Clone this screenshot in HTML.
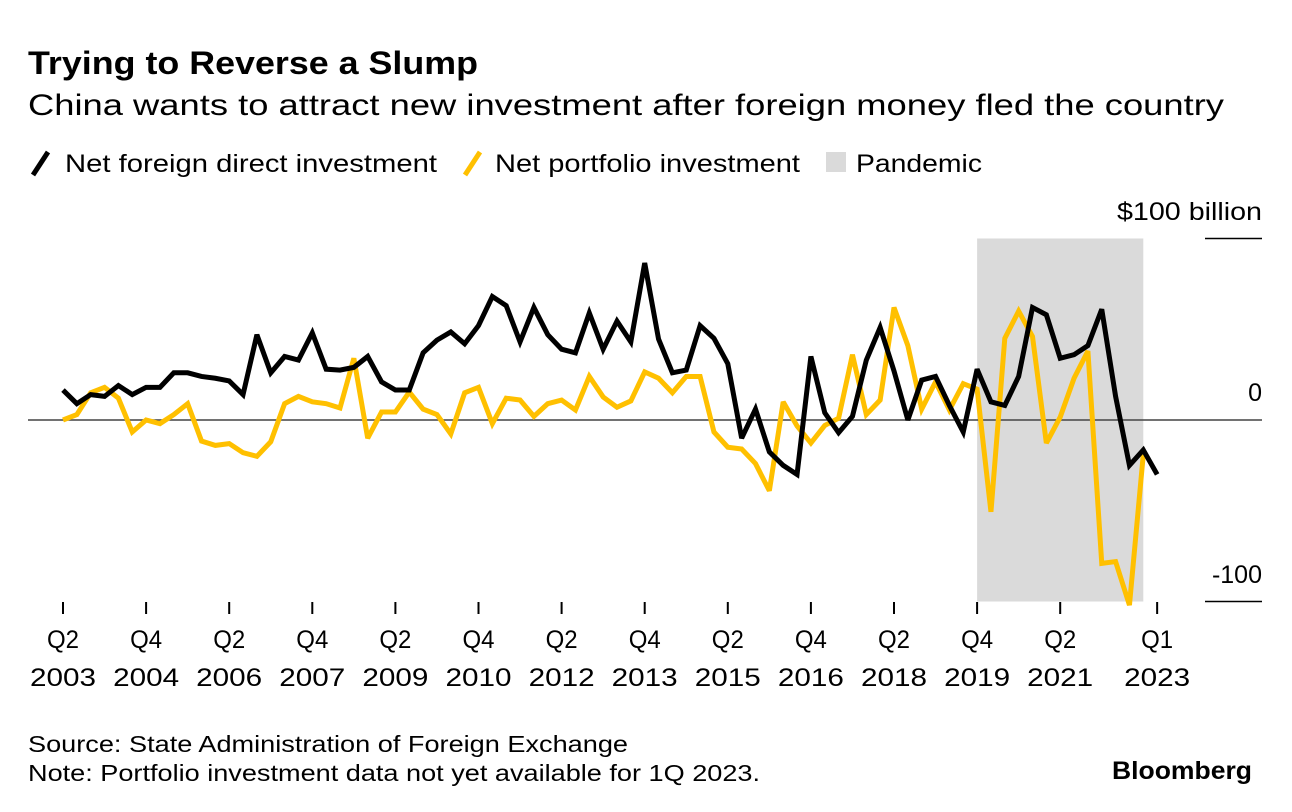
<!DOCTYPE html>
<html><head><meta charset="utf-8"><style>
body{margin:0;background:#fff;width:1292px;height:812px;overflow:hidden;font-family:"Liberation Sans",sans-serif;color:#000}
</style></head><body>
<svg width="1292" height="812" style="position:absolute;left:0;top:0" id="chart" font-family="Liberation Sans, sans-serif">
<text x="28" y="74" font-size="32" font-weight="bold" textLength="450" lengthAdjust="spacingAndGlyphs">Trying to Reverse a Slump</text>
<text x="28" y="115" font-size="30" textLength="1196" lengthAdjust="spacingAndGlyphs">China wants to attract new investment after foreign money fled the country</text>
<g font-size="25">
<g><line x1="33" y1="175" x2="48" y2="152" stroke="#000" stroke-width="5"/><text x="65" y="172" textLength="372" lengthAdjust="spacingAndGlyphs">Net foreign direct investment</text></g>
<g><line x1="465" y1="175" x2="480" y2="152" stroke="#ffc000" stroke-width="5"/><text x="495" y="172" textLength="305" lengthAdjust="spacingAndGlyphs">Net portfolio investment</text></g>
<g><rect x="826" y="152" width="20" height="20" fill="#dadada"/><text x="856" y="172" textLength="126" lengthAdjust="spacingAndGlyphs">Pandemic</text></g>
</g>
<g id="plot"></g>
<text x="1117" y="220" font-size="25" textLength="145" lengthAdjust="spacingAndGlyphs">$100 billion</text>
<text x="1262" y="401" font-size="25" text-anchor="end">0</text>
<text x="1262" y="583" font-size="25" text-anchor="end">-100</text>
<text x="28" y="752" font-size="23" textLength="600" lengthAdjust="spacingAndGlyphs">Source: State Administration of Foreign Exchange</text>
<text x="28" y="781" font-size="23" textLength="732" lengthAdjust="spacingAndGlyphs">Note: Portfolio investment data not yet available for 1Q 2023.</text>
<text x="1112" y="779" font-size="25" font-weight="bold" textLength="140" lengthAdjust="spacingAndGlyphs">Bloomberg</text>
</svg>
<script>
const fdi=[16.5,9,14,13,19,14,18,18,26,26,24,23,21.5,14,47,26,35,33,48,28,27.5,29,35,21,16.5,16.5,37,44,48.5,42,52,68,63,43,62,47,39,37,59,39,54.5,43,86.5,44.6,26,27.5,52,45,31,-10,6,-17.6,-25,-30,35,4,-7,2,33,51,27,0,22,24,8,-6.6,28,10,8,24,62,58,34,36,41,61,13,-25,-16.5,-30];
const portfolio=[0,3,15,18,12,-6.6,0,-2,3,9,-11.6,-14,-13,-18,-20,-12,9,13,10,9,6.6,34,-10,4.4,4.4,15.4,6,3,-7.7,15,18,-2,12,11,2,9,11,5.5,24,12.7,7,10.5,26.5,23,15,24,24,-6.6,-15,-16,-24,-39,10,-3.3,-12.7,-3,1,36,3,11,62,41,6,21,5.5,20,17,-50.6,45,60,46,-12.7,1.6,23,38,-79,-78,-102,-19];
const tickIdx=[0,6,12,18,24,30,36,42,48,54,60,66,72,79];
const tickTop=["Q2","Q4","Q2","Q4","Q2","Q4","Q2","Q4","Q2","Q4","Q2","Q4","Q2","Q1"];
const tickBottom=["2003","2004","2006","2007","2009","2010","2012","2013","2015","2016","2018","2019","2021","2023"];
const pandemic=[66,78];
const X=i=>63+i*13.85, Y=v=>420-v*1.815;
const NS="http://www.w3.org/2000/svg", g=document.getElementById('plot');
function mk(t,a){const e=document.createElementNS(NS,t);for(const k in a)e.setAttribute(k,a[k]);g.appendChild(e);return e;}
let r=mk('rect',{x:X(pandemic[0]),y:Y(100),width:X(pandemic[1])-X(pandemic[0]),height:Y(-100)-Y(100),fill:'#dadada'});


let l=mk('line',{x1:28,x2:1262,y1:Y(0),y2:Y(0),stroke:'#444','stroke-width':1.5});


[100,-100].forEach(v=>{let e=mk('line',{x1:1205,x2:1262,y1:Y(v),y2:Y(v),stroke:'#000','stroke-width':1.5});

});
tickIdx.forEach((q,k)=>{const x=X(q);
let t=mk('line',{x1:x,x2:x,y1:602,y2:614,stroke:'#000','stroke-width':2});


let a=mk('text',{x:x-16,y:648,'font-size':25,textLength:32,lengthAdjust:'spacingAndGlyphs'});a.textContent=tickTop[k];


let b=mk('text',{x:x-33,y:686,'font-size':25,textLength:66,lengthAdjust:'spacingAndGlyphs'});b.textContent=tickBottom[k];

});
function line(d,c,n){let p=mk('polyline',{points:d.map((v,i)=>X(i)+','+Y(v)).join(' '),fill:'none',stroke:c,'stroke-width':5,'stroke-linejoin':'miter','stroke-miterlimit':3});

}
line(portfolio,'#ffc000','portfolio-line');
line(fdi,'#000','fdi-line');
</script>
</body></html>
